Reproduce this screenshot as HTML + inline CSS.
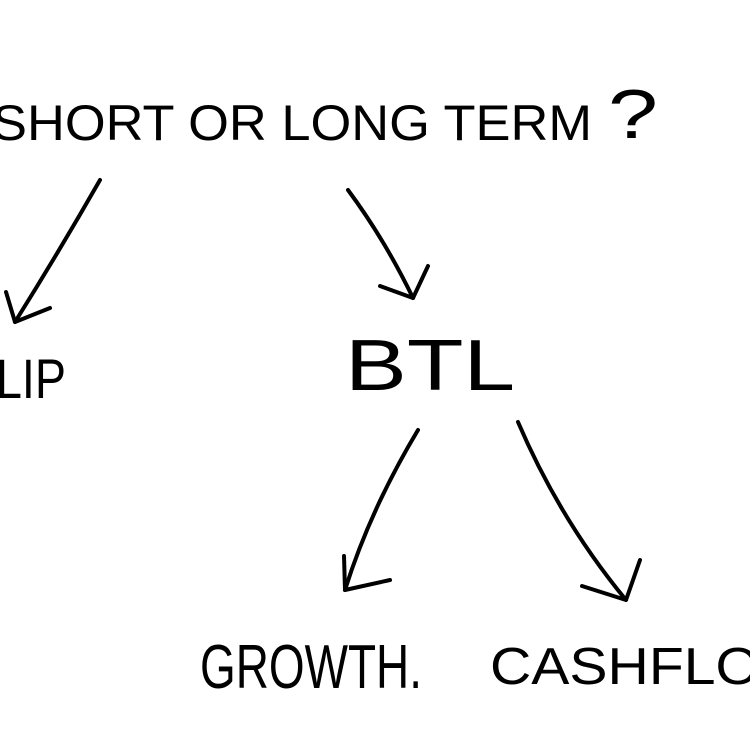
<!DOCTYPE html>
<html><head><meta charset="utf-8"><style>
html,body{margin:0;padding:0;background:#fff;width:750px;height:750px;overflow:hidden}
</style></head><body>
<svg width="750" height="750" viewBox="0 0 750 750" xmlns="http://www.w3.org/2000/svg">
<g font-family="Liberation Sans, sans-serif" fill="#000">
<text x="-8" y="140" font-size="50" textLength="600" lengthAdjust="spacingAndGlyphs">SHORT OR LONG TERM</text>
<text x="608" y="138" font-size="70" textLength="50" lengthAdjust="spacingAndGlyphs">?</text>
<text x="-4" y="398" font-size="56" textLength="70" lengthAdjust="spacingAndGlyphs">LIP</text>
<text x="345" y="390" font-size="72" textLength="170" lengthAdjust="spacingAndGlyphs">BTL</text>
<text x="200" y="688" font-size="62" textLength="222" lengthAdjust="spacingAndGlyphs">GROWTH.</text>
<text x="490" y="684" font-size="52" textLength="270" lengthAdjust="spacingAndGlyphs">CASHFLO</text>
</g>
<g fill="none" stroke="#000" stroke-width="4" stroke-linecap="round" stroke-linejoin="round">
<path d="M100 180 Q60 250 15 322"/>
<path d="M6 292 L15 322 L50 308"/>
<path d="M348 190 Q385 240 413 298"/>
<path d="M380 286 L413 298 L428 266"/>
<path d="M418 430 Q370 510 345 590"/>
<path d="M344 556 L345 590 L390 580"/>
<path d="M518 422 Q560 520 626 600"/>
<path d="M582 586 L626 600 L640 560"/>
</g>
</svg>
</body></html>
